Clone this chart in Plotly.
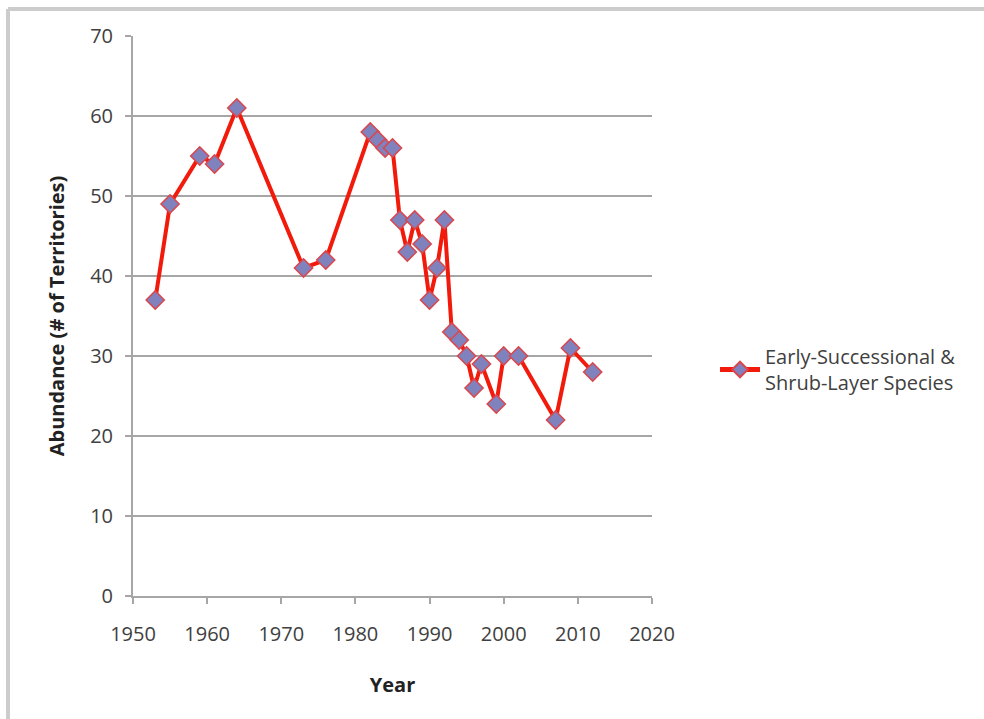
import plotly.graph_objects as go

# Breeding-territory counts by survey year
years = [1953, 1955, 1959, 1961, 1964, 1973, 1976, 1982, 1983, 1984, 1985,
         1986, 1987, 1988, 1989, 1990, 1991, 1992, 1993, 1994, 1995, 1996,
         1997, 1999, 2000, 2002, 2007, 2009, 2012]
territories = [37, 49, 55, 54, 61, 41, 42, 58, 57, 56, 56,
               47, 43, 47, 44, 37, 41, 47, 33, 32, 30, 26,
               29, 24, 30, 30, 22, 31, 28]
series_name = "Early-Successional &<br>Shrub-Layer Species"

x_ticks = [1950, 1960, 1970, 1980, 1990, 2000, 2010, 2020]
y_ticks = [0, 10, 20, 30, 40, 50, 60, 70]

W, H = 984, 719
ML, MR, MT, MB = 133, 332, 36, 123
pw, ph = W - ML - MR, H - MT - MB

FONT = "Open Sans"
FS = 20
TXT = "#404040"
GRID = "#a6a6a6"

fig = go.Figure()
fig.add_trace(go.Scatter(
    x=years, y=territories, mode="lines+markers", name=series_name,
    line=dict(color="#f21a0a", width=4),
    marker=dict(symbol="diamond", size=14, color="#7f82bd",
                line=dict(color="#d9474f", width=1.5)),
))

# Light frame along the top and left edges of the chart
def px_x(p):
    return (p - ML) / pw

def px_y(p):
    return (H - MB - p) / ph

frame = dict(color="#cccccc", width=4)
fig.add_shape(type="line", xref="paper", yref="paper",
              x0=px_x(8), x1=px_x(990), y0=px_y(9), y1=px_y(9), line=frame)
fig.add_shape(type="line", xref="paper", yref="paper",
              x0=px_x(8), x1=px_x(8), y0=px_y(9), y1=px_y(725), line=frame)

fig.update_layout(
    width=W, height=H,
    margin=dict(l=ML, r=MR, t=MT, b=MB),
    paper_bgcolor="white", plot_bgcolor="white",
    font=dict(family=FONT, size=FS, color=TXT),
    showlegend=True,
    legend=dict(x=px_x(715), y=px_y(337), xanchor="left", yanchor="top",
                font=dict(family=FONT, size=FS, color=TXT),
                bgcolor="rgba(0,0,0,0)", itemwidth=40, itemsizing="constant"),
    xaxis=dict(
        range=[1950, 2020], tickvals=x_ticks, ticktext=[str(v) for v in x_ticks],
        showgrid=False, zeroline=False,
        showline=True, linecolor=GRID, linewidth=2,
        ticks="outside", ticklen=6, tickcolor=GRID, tickwidth=1.5,
        ticklabelstandoff=13,
        tickfont=dict(size=FS, color=TXT),
        title=dict(text="<b>Year</b>", font=dict(size=FS, color="#222222"),
                   standoff=32),
    ),
    yaxis=dict(
        range=[0, 70], tickvals=y_ticks,
        showgrid=True, gridcolor=GRID, gridwidth=2,
        zeroline=False,
        showline=True, linecolor=GRID, linewidth=2,
        ticks="outside", ticklen=6, tickcolor=GRID, tickwidth=1.5,
        ticklabelstandoff=8,
        tickfont=dict(size=FS, color=TXT),
        title=dict(text="<b>Abundance (# of Territories)</b>",
                   font=dict(size=FS, color="#222222"), standoff=20),
    ),
)

fig.write_html("out.html")
